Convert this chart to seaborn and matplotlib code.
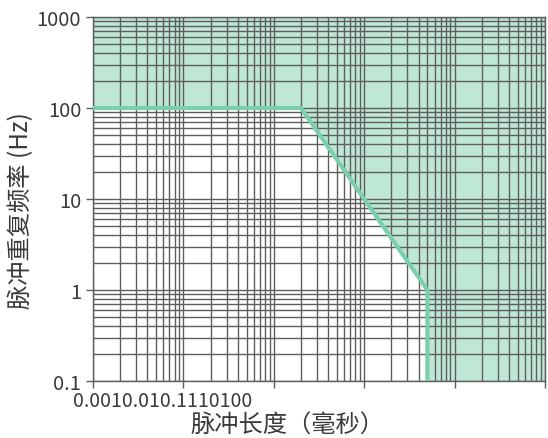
import numpy as np
import pandas as pd
import seaborn as sns
import matplotlib.pyplot as plt
from matplotlib.ticker import LogLocator, FixedLocator, NullFormatter

# boundary of the allowed region (pulse length ms, repetition rate Hz)
pulse_ms = [0.001, 0.2, 5, 5]
rate_hz = [100, 100, 1, 0.1]

# shaded area edge, extended to the right border
fill_x = [0.001, 0.2, 5, 5, 100]
fill_y = [100, 100, 1, 0.1, 0.1]

x_ticks = [0.001, 0.01, 0.1, 1, 10, 100]
x_tick_labels = ['0.001', '0.01', '0.1', '1', '10', '100']
y_ticks = [0.1, 1, 10, 100, 1000]
y_tick_labels = ['0.1', '1', '10', '100', '1000']

x_label = '脉冲长度（毫秒）'
y_label = '脉冲重复频率 (Hz)'

line_color = '#7acfac'
fill_color = '#bfe7d5'
grid_color = '#5e5e5e'
text_color = '#3a3a3a'

sns.set_style('white')
plt.rcParams['font.family'] = ['Noto Sans CJK SC', 'DejaVu Sans']

fig = plt.figure(figsize=(5.48, 4.39), dpi=100)
ax = fig.add_axes([93 / 548, 1 - 382 / 439, 452 / 548, 364 / 439])

ax.fill_between(fill_x, fill_y, 1000, color=fill_color, lw=0, zorder=1)
df = pd.DataFrame({'pulse': pulse_ms, 'rate': rate_hz})
sns.lineplot(data=df, x='pulse', y='rate', sort=False, estimator=None,
             color=line_color, lw=3, ax=ax, zorder=3)

ax.set_xscale('log')
ax.set_yscale('log')
ax.set_xlim(x_ticks[0], x_ticks[-1])
ax.set_ylim(y_ticks[0], y_ticks[-1])

# grid on every 1..9 step of each decade
ax.xaxis.set_major_locator(FixedLocator(x_ticks))
ax.yaxis.set_major_locator(FixedLocator(y_ticks))
ax.xaxis.set_minor_locator(LogLocator(base=10, subs=np.arange(2, 10), numticks=20))
ax.yaxis.set_minor_locator(LogLocator(base=10, subs=np.arange(2, 10), numticks=20))
ax.xaxis.set_minor_formatter(NullFormatter())
ax.yaxis.set_minor_formatter(NullFormatter())
ax.set_axisbelow(False)
ax.grid(True, which='both', color=grid_color, lw=1.0, zorder=2)

for s in ax.spines.values():
    s.set_color(grid_color)
    s.set_linewidth(1.0)

ax.set_yticklabels(y_tick_labels, fontsize=14.5, color=text_color)
# the original tick labels all run together at the left end
ax.set_xticklabels([''] * len(x_ticks))
ax.annotate(''.join(x_tick_labels), xy=(0, 0), xycoords='axes fraction',
            xytext=(-20, -20), textcoords='offset pixels',
            ha='left', va='center', fontsize=14, color=text_color)
ax.tick_params(axis='both', which='major', length=5, width=1,
               color=grid_color, direction='out', bottom=True, left=True)
ax.tick_params(axis='both', which='minor', length=0)

ax.set_xlabel(x_label, fontsize=17.5, color=text_color)
ax.set_ylabel(y_label, fontsize=17.5, color=text_color)
ax.xaxis.set_label_coords(0.431, -0.085)
ax.yaxis.set_label_coords(-0.13, 0.47)

fig.savefig('out.png', dpi=100)
